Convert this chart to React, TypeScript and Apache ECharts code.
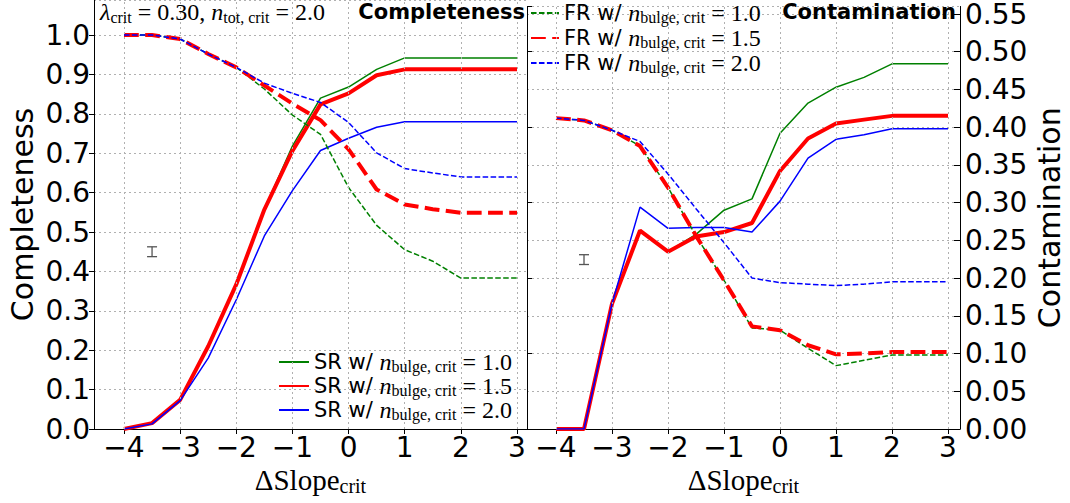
import React, { useEffect, useRef } from "react";
import * as echarts from "echarts";

// ---------------- data ----------------
const xs = [-4, -3.5, -3, -2.5, -2, -1.5, -1, -0.5, 0, 0.5, 1, 1.5, 2, 2.5, 3];

// Completeness (left panel)
const compSR10 = [0.0, 0.015, 0.074, 0.21, 0.37, 0.558, 0.718, 0.84, 0.868, 0.913, 0.942, 0.942, 0.942, 0.942, 0.942];
const compSR15 = [0.0, 0.015, 0.074, 0.21, 0.367, 0.557, 0.706, 0.824, 0.852, 0.898, 0.913, 0.913, 0.913, 0.913, 0.913];
const compSR20 = [0.0, 0.013, 0.072, 0.18, 0.328, 0.49, 0.605, 0.707, 0.738, 0.766, 0.78, 0.78, 0.78, 0.78, 0.78];
const compFR10 = [1.0, 1.0, 0.99, 0.952, 0.918, 0.863, 0.797, 0.748, 0.613, 0.517, 0.455, 0.426, 0.383, 0.383, 0.383];
const compFR15 = [1.0, 1.0, 0.99, 0.952, 0.918, 0.872, 0.826, 0.784, 0.71, 0.608, 0.57, 0.558, 0.549, 0.549, 0.549];
const compFR20 = [1.0, 1.0, 0.99, 0.952, 0.918, 0.878, 0.852, 0.829, 0.778, 0.701, 0.661, 0.65, 0.64, 0.64, 0.64];

// Contamination (right panel)
const contSR10 = [0.0, 0.0, 0.166, 0.263, 0.235, 0.258, 0.29, 0.305, 0.392, 0.432, 0.453, 0.466, 0.484, 0.484, 0.484];
const contSR15 = [0.0, 0.0, 0.166, 0.263, 0.235, 0.255, 0.261, 0.273, 0.342, 0.385, 0.405, 0.41, 0.415, 0.415, 0.415];
const contSR20 = [0.0, 0.0, 0.166, 0.294, 0.266, 0.267, 0.267, 0.261, 0.302, 0.359, 0.384, 0.39, 0.398, 0.398, 0.398];
const contFR10 = [0.412, 0.409, 0.396, 0.375, 0.32, 0.256, 0.197, 0.134, 0.131, 0.107, 0.084, 0.091, 0.098, 0.098, 0.098];
const contFR15 = [0.412, 0.409, 0.396, 0.375, 0.32, 0.256, 0.197, 0.136, 0.131, 0.111, 0.099, 0.1, 0.102, 0.102, 0.102];
const contFR20 = [0.412, 0.409, 0.396, 0.381, 0.338, 0.292, 0.247, 0.2, 0.194, 0.192, 0.19, 0.192, 0.195, 0.195, 0.195];

// representative error bars: [x, y, half-height]
const errComp = [[-3.5, 0.45, 0.0125]];
const errCont = [[-3.5, 0.2245, 0.0065]];

const xTicks = [-4, -3, -2, -1, 0, 1, 2, 3];
const nBulge = ["1.0", "1.5", "2.0"];

// ---------------- helpers ----------------
const zip = (ys: number[]) => xs.map((x, i) => [x, ys[i]]);
const colors = ["#008000", "#ff0000", "#0000ff"];
const widths = [1.5, 4, 1.5];
const dashFor = (w: number) => [3.7 * w, 1.6 * w];

const serif = "Liberation Serif";
const sans = "DejaVu Sans";
const gridColor = "#b0b0b0";

const legendRich = {
  a: { fontFamily: sans, fontSize: 21, lineHeight: 24, color: "#000" },
  n: { fontFamily: serif, fontStyle: "italic", fontSize: 24, lineHeight: 24, color: "#000" },
  s: { fontFamily: serif, fontSize: 16, lineHeight: 9, verticalAlign: "bottom", color: "#000" },
  e: { fontFamily: serif, fontSize: 24, lineHeight: 24, color: "#000" },
};

const legendFormatter = (name: string) => {
  const parts = name.split("|");
  return `{a|${parts[0]} w/ }{n|n}{s|bulge, crit}{e| = ${parts[1]}}`;
};

const minusFmt = (v: number) => (v < 0 ? "\u2212" + Math.abs(v) : String(v));

const xName = "{d|ΔSlope}{s|crit}";
const xNameStyle = {
  rich: {
    d: { fontFamily: serif, fontSize: 29, lineHeight: 32, color: "#000" },
    s: { fontFamily: serif, fontSize: 20, lineHeight: 14, verticalAlign: "bottom", color: "#000" },
  },
};

function makeX(gridIndex: number, min: number, max: number) {
  return {
    type: "value",
    gridIndex,
    min,
    max,
    axisLine: { show: true, onZero: false, lineStyle: { color: "#000", width: 1 } },
    axisTick: { show: true, customValues: xTicks, length: 5, lineStyle: { color: "#000" } },
    axisLabel: {
      customValues: xTicks,
      formatter: minusFmt,
      fontSize: 28,
      fontFamily: sans,
      color: "#000",
      margin: 4,
    },
    splitLine: { show: false },
    name: xName,
    nameLocation: "middle",
    nameGap: 30,
    nameTextStyle: xNameStyle,
  };
}

// vertical dotted grid lines at the integer ticks
function vGridSeries(axisIdx: number) {
  return {
    type: "line",
    xAxisIndex: axisIdx,
    yAxisIndex: axisIdx,
    data: [],
    z: 0,
    silent: true,
    markLine: {
      silent: true,
      symbol: ["none", "none"],
      label: { show: false },
      lineStyle: { color: gridColor, type: [2, 3], width: 1 },
      emphasis: { disabled: true },
      animation: false,
      data: xTicks.map((v) => ({ xAxis: v })),
    },
  };
}

function lineSeries(name: string, data: number[], idx: number, dashed: boolean, axisIdx: number) {
  return {
    type: "line",
    name,
    data: zip(data),
    xAxisIndex: axisIdx,
    yAxisIndex: axisIdx,
    symbol: "none",
    showSymbol: false,
    lineStyle: {
      color: colors[idx],
      width: widths[idx],
      type: dashed ? dashFor(widths[idx]) : "solid",
    },
    itemStyle: { color: colors[idx] },
    z: dashed ? 3 : 2,
  };
}

function errSeries(data: number[][], axisIdx: number) {
  return {
    type: "custom",
    xAxisIndex: axisIdx,
    yAxisIndex: axisIdx,
    data,
    z: 5,
    renderItem: (_p: any, api: any) => {
      const x = api.value(0);
      const y = api.value(1);
      const e = api.value(2);
      const top = api.coord([x, y + e]);
      const bot = api.coord([x, y - e]);
      const hw = 5;
      const st = { stroke: "#555", lineWidth: 1.3 };
      return {
        type: "group",
        children: [
          { type: "line", shape: { x1: top[0], y1: top[1], x2: bot[0], y2: bot[1] }, style: st },
          { type: "line", shape: { x1: top[0] - hw, y1: top[1], x2: top[0] + hw, y2: top[1] }, style: st },
          { type: "line", shape: { x1: bot[0] - hw, y1: bot[1], x2: bot[0] + hw, y2: bot[1] }, style: st },
        ],
      };
    },
  };
}

const srNames = nBulge.map((n) => `SR|${n}`);
const frNames = nBulge.map((n) => `FR|${n}`);

const legendCommon = {
  orient: "vertical",
  padding: 0,
  itemHeight: 14,
  formatter: legendFormatter,
  textStyle: { rich: legendRich },
  selectedMode: false,
  itemStyle: { color: "transparent", borderColor: "transparent", borderWidth: 0 },
};

const option: any = {
  animation: false,
  backgroundColor: "#ffffff",
  grid: [
    { left: 94, top: 0, width: 433, height: 429 },
    { left: 527, top: 0, width: 433, height: 429 },
  ],
  xAxis: [makeX(0, -4.534, 3.178), makeX(1, -4.518, 3.214)],
  yAxis: [
    {
      type: "value",
      gridIndex: 0,
      min: 0,
      max: 1.089,
      interval: 0.1,
      axisLine: { show: true, onZero: false, lineStyle: { color: "#000", width: 1 } },
      axisTick: { show: true, length: 5, lineStyle: { color: "#000" } },
      axisLabel: {
        formatter: (v: number) => v.toFixed(1),
        showMaxLabel: false,
        fontSize: 28,
        fontFamily: sans,
        color: "#000",
        margin: 4,
      },
      splitLine: { show: true, lineStyle: { color: gridColor, type: [2, 3], width: 1 } },
      name: "Completeness",
      nameLocation: "middle",
      nameGap: 57,
      nameTextStyle: { fontSize: 30, fontFamily: sans, color: "#000" },
    },
    {
      type: "value",
      gridIndex: 1,
      position: "right",
      min: 0,
      max: 0.56,
      interval: 0.05,
      axisLine: { show: true, onZero: false, lineStyle: { color: "#000", width: 1 } },
      axisTick: { show: true, inside: true, length: 6, lineStyle: { color: "#000" } },
      axisLabel: {
        formatter: (v: number) => v.toFixed(2),
        showMaxLabel: false,
        fontSize: 28,
        lineHeight: 22,
        fontFamily: sans,
        color: "#000",
        margin: 5,
      },
      splitLine: { show: true, lineStyle: { color: gridColor, type: [2, 3], width: 1 } },
      name: "Contamination",
      nameLocation: "middle",
      nameGap: 74,
      nameRotate: 90,
      nameTextStyle: { fontSize: 30, fontFamily: sans, color: "#000" },
    },
    {
      type: "value",
      gridIndex: 1,
      position: "left",
      min: 0,
      max: 0.56,
      interval: 0.1,
      axisLine: { show: true, onZero: false, lineStyle: { color: "#000", width: 1 } },
      axisTick: { show: true, inside: true, length: 5, lineStyle: { color: "#000" } },
      axisLabel: { show: false },
      splitLine: { show: false },
    },
  ],
  legend: [
    { ...legendCommon, data: srNames, left: 278, top: 350, itemWidth: 30, itemGap: 0 },
    { ...legendCommon, data: frNames, left: 530, top: 1, itemWidth: 28, itemGap: 1 },
  ],
  graphic: [
    {
      type: "text",
      left: 100,
      top: 0,
      z: 10,
      style: {
        text: "{m|λ}{s|crit}{e| = 0.30, }{m|n}{s|tot, crit}{e| = 2.0}",
        rich: {
          m: { fontFamily: serif, fontStyle: "italic", fontSize: 24, lineHeight: 26, fill: "#000" },
          s: { fontFamily: serif, fontSize: 16, lineHeight: 10, verticalAlign: "bottom", fill: "#000" },
          e: { fontFamily: serif, fontSize: 24, lineHeight: 26, fill: "#000" },
        },
      },
    },
    {
      type: "text",
      right: 545,
      top: 1,
      z: 10,
      style: { text: "Completeness", font: "bold 21px 'DejaVu Sans'", fill: "#000" },
    },
    {
      type: "text",
      right: 114,
      top: 1,
      z: 10,
      style: { text: "Contamination", font: "bold 21px 'DejaVu Sans'", fill: "#000" },
    },
  ],
  series: [
    vGridSeries(0),
    vGridSeries(1),
    lineSeries(srNames[0], compSR10, 0, false, 0),
    lineSeries(srNames[1], compSR15, 1, false, 0),
    lineSeries(srNames[2], compSR20, 2, false, 0),
    lineSeries(frNames[0], compFR10, 0, true, 0),
    lineSeries(frNames[1], compFR15, 1, true, 0),
    lineSeries(frNames[2], compFR20, 2, true, 0),
    lineSeries(srNames[0], contSR10, 0, false, 1),
    lineSeries(srNames[1], contSR15, 1, false, 1),
    lineSeries(srNames[2], contSR20, 2, false, 1),
    lineSeries(frNames[0], contFR10, 0, true, 1),
    lineSeries(frNames[1], contFR15, 1, true, 1),
    lineSeries(frNames[2], contFR20, 2, true, 1),
    errSeries(errComp, 0),
    errSeries(errCont, 1),
  ],
};

export default function App() {
  const ref = useRef<HTMLDivElement>(null);
  useEffect(() => {
    if (!ref.current) return;
    const chart = echarts.init(ref.current, null, { renderer: "svg" });
    chart.setOption(option);
    return () => chart.dispose();
  }, []);
  return (
    <div
      ref={ref}
      style={{ position: "fixed", left: 0, top: 0, width: 1070, height: 503, background: "#fff" }}
    />
  );
}
